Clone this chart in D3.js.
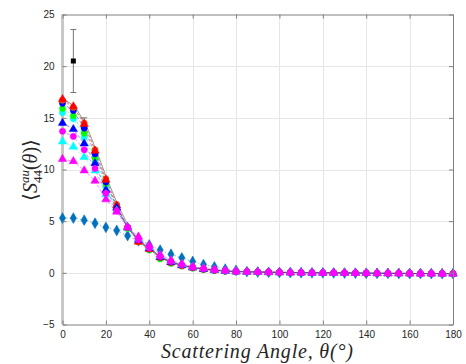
<!DOCTYPE html>
<html>
<head>
<meta charset="utf-8">
<script src="https://cdn.jsdelivr.net/npm/d3@7"></script>
<style>
  html, body { margin: 0; padding: 0; background: #fff; }
  svg { display: block; }
  .tick text { font-family: "Liberation Sans", Arial, sans-serif; font-size: 10px; fill: #262626; }
</style>
</head>
<body>
<div id="chart"></div>
<script>
// ── Data ───────────────────────────────────────────────────────────────────
const angles = [0, 5, 10, 15, 20, 25, 30, 35, 40, 45, 50, 55, 60, 65, 70, 75, 80,
  85, 90, 95, 100, 105, 110, 115, 120, 125, 130, 135, 140, 145, 150, 155, 160, 165, 170, 175, 180];

const redTri    = [16.8, 16.1, 14.4, 11.8, 9.0, 6.5, 4.4, 3.0, 2.3, 1.5, 1.0, 0.7, 0.5, 0.35, 0.25, 0.17, 0.12,
  0.1, 0.08, 0.06, 0.05, 0.03, 0.02, 0.01, 0, 0, -0.01, -0.02, -0.03, -0.04, -0.05, -0.05, -0.06, -0.07, -0.07, -0.08, -0.08];
const orangeCirc = [16.7, 16.0, 14.5, 11.9, 9.1, 6.6, 4.4, 3.0, 2.3, 1.5, 1.0, 0.7, 0.5, 0.35, 0.25, 0.17, 0.12,
  0.1, 0.08, 0.06, 0.05, 0.03, 0.02, 0.01, 0, 0, -0.01, -0.02, -0.03, -0.04, -0.05, -0.05, -0.06, -0.07, -0.07, -0.08, -0.08];
const blueCirc  = [16.4, 15.7, 14.0, 11.5, 8.8, 6.4, 4.4, 3.1, 2.3, 1.5, 1.0, 0.7, 0.5, 0.35, 0.25, 0.17, 0.12,
  0.1, 0.08, 0.06, 0.05, 0.03, 0.02, 0.01, 0, 0, -0.01, -0.02, -0.03, -0.04, -0.05, -0.05, -0.06, -0.07, -0.07, -0.08, -0.08];
const greenCirc = [15.9, 15.2, 13.5, 11.1, 8.6, 6.3, 4.3, 3.0, 2.2, 1.35, 0.9, 0.65, 0.45, 0.3, 0.22, 0.15, 0.1,
  0.08, 0.06, 0.05, 0.04, 0.03, 0.02, 0.01, 0, 0, -0.01, -0.02, -0.03, -0.04, -0.05, -0.05, -0.06, -0.07, -0.07, -0.08, -0.08];
const cyanCirc  = [15.5, 14.9, 13.1, 10.8, 8.3, 6.2, 4.3, 3.1, 2.3, 1.5, 1.0, 0.7, 0.5, 0.35, 0.25, 0.17, 0.12,
  0.1, 0.08, 0.06, 0.05, 0.03, 0.02, 0.01, 0, 0, -0.01, -0.02, -0.03, -0.04, -0.05, -0.05, -0.06, -0.07, -0.07, -0.08, -0.08];
const blueTri   = [14.5, 13.9, 12.5, 10.6, 8.0, 6.3, 4.4, 3.2, 2.4, 1.55, 1.05, 0.75, 0.52, 0.37, 0.26, 0.18, 0.12,
  0.1, 0.08, 0.06, 0.05, 0.03, 0.02, 0.01, 0, 0, -0.01, -0.02, -0.03, -0.04, -0.05, -0.05, -0.06, -0.07, -0.07, -0.08, -0.08];
const magCirc   = [13.7, 13.2, 11.9, 10.1, 7.7, 6.0, 4.4, 3.2, 2.4, 1.6, 1.1, 0.78, 0.55, 0.4, 0.28, 0.2, 0.14,
  0.1, 0.08, 0.06, 0.05, 0.03, 0.02, 0.01, 0, 0, -0.01, -0.02, -0.03, -0.04, -0.05, -0.05, -0.06, -0.07, -0.07, -0.08, -0.08];
const cyanTri   = [12.7, 12.2, 11.2, 9.9, 7.6, 6.0, 4.4, 3.3, 2.5, 1.65, 1.15, 0.8, 0.58, 0.42, 0.3, 0.2, 0.14,
  0.1, 0.08, 0.06, 0.05, 0.03, 0.02, 0.01, 0, 0, -0.01, -0.02, -0.03, -0.04, -0.05, -0.05, -0.06, -0.07, -0.07, -0.08, -0.08];
const magTri    = [11.0, 10.8, 9.9, 8.9, 7.1, 5.9, 4.4, 3.5, 2.65, 1.75, 1.2, 0.87, 0.6, 0.45, 0.32, 0.22, 0.15,
  0.1, 0.08, 0.06, 0.05, 0.03, 0.02, 0.01, 0, 0, -0.01, -0.02, -0.03, -0.04, -0.05, -0.05, -0.06, -0.07, -0.07, -0.08, -0.08];
const diamonds  = [5.3, 5.3, 5.1, 4.8, 4.4, 4.1, 3.6, 3.1, 2.7, 2.2, 1.8, 1.45, 1.1, 0.8, 0.58, 0.36, 0.24,
  0.12, 0.08, 0.05, 0.03, 0.02, 0.01, 0, 0, -0.01, -0.02, -0.03, -0.04, -0.05, -0.05, -0.06, -0.07, -0.07, -0.08, -0.08, -0.08];

// black measured points with error bars
const expAngles = [5, 10, 30];
const expValues = [20.5, 14.3, 4.3];
const expErrors = [3.05, 0.7, 0.15];

const xTicks = [0, 20, 40, 60, 80, 100, 120, 140, 160, 180];
const yTicks = [-5, 0, 5, 10, 15, 20, 25];

// drawing order = MATLAB plot order (later on top)
const series = [
  { values: diamonds,   color: "#0072BD", marker: "diamond" },
  { values: cyanCirc,   color: "#00ffff", marker: "circle" },
  { values: greenCirc,  color: "#00ff00", marker: "circle" },
  { values: blueCirc,   color: "#0000ff", marker: "circle" },
  { values: orangeCirc, color: "#D95319", marker: "circle" },
  { values: redTri,     color: "#ff0000", marker: "triangle" },
  { values: blueTri,    color: "#0000ff", marker: "triangle" },
  { values: cyanTri,    color: "#00ffff", marker: "triangle" },
  { values: magTri,     color: "#ff00ff", marker: "triangle" },
  { values: magCirc,    color: "#ff00ff", marker: "circle" },
];

// ── Layout ─────────────────────────────────────────────────────────────────
const W = 466, H = 364;
const x = d3.scaleLinear().domain([0, 180]).range([62.5, 453]);
const y = d3.scaleLinear().domain([-5, 25]).range([324.5, 14.5]);

const svg = d3.select("#chart").append("svg")
  .attr("width", W).attr("height", H)
  .style("background", "#fff");

// grid
const grid = svg.append("g").attr("stroke", "#e6e6e6").attr("stroke-width", 1);
grid.selectAll("line.gx").data(xTicks.slice(1, -1)).join("line")
  .attr("x1", d => Math.round(x(d)) + 0.5).attr("x2", d => Math.round(x(d)) + 0.5)
  .attr("y1", y(25)).attr("y2", y(-5));
grid.selectAll("line.gy").data(yTicks.slice(1, -1)).join("line")
  .attr("y1", d => Math.round(y(d)) + 0.5).attr("y2", d => Math.round(y(d)) + 0.5)
  .attr("x1", x(0)).attr("x2", x(180));

// thick light line on the left edge
svg.append("rect")
  .attr("x", x(0) - 1.5).attr("y", y(25))
  .attr("width", 3).attr("height", y(-5) - y(25))
  .attr("fill", "#c8c8c8");

// ── Marks ──────────────────────────────────────────────────────────────────
const triangle = d3.symbol().type(d3.symbolTriangle).size(30);
const circle = d3.symbol().type(d3.symbolCircle).size(30);
const diamond = d3.symbol().type(d3.symbolDiamond).size(34);
const shapes = { triangle, circle, diamond };

const line = d3.line().x((d, i) => x(angles[i])).y(d => y(d));

series.forEach(s => {
  svg.append("path")
    .attr("d", line(s.values))
    .attr("fill", "none")
    .attr("stroke", s.color)
    .attr("stroke-opacity", 0.45)
    .attr("stroke-width", 1)
    .attr("stroke-dasharray", s.marker === "diamond" ? "1.5,2" : "3,2");
});

// thin dark line along the leading curve
svg.append("path")
  .attr("d", line(redTri))
  .attr("fill", "none").attr("stroke", "#333").attr("stroke-width", 0.5)
  .attr("transform", "translate(1.5,0)");

// black measured points sit underneath the model markers
const errG = svg.append("g").attr("stroke", "#555").attr("stroke-width", 0.8);
expAngles.forEach((a, i) => {
  const cx = x(a), lo = y(expValues[i] - expErrors[i]), hi = y(expValues[i] + expErrors[i]);
  errG.append("line").attr("x1", cx).attr("x2", cx).attr("y1", lo).attr("y2", hi);
  errG.append("line").attr("x1", cx - 3).attr("x2", cx + 3).attr("y1", lo).attr("y2", lo);
  errG.append("line").attr("x1", cx - 3).attr("x2", cx + 3).attr("y1", hi).attr("y2", hi);
});
svg.append("g").selectAll("rect").data(expAngles).join("rect")
  .attr("x", d => x(d) - 2.5).attr("y", (d, i) => y(expValues[i]) - 2.5)
  .attr("width", 5).attr("height", 5)
  .attr("fill", "#000");

series.forEach(s => {
  svg.append("g").selectAll("path").data(s.values).join("path")
    .attr("transform", (d, i) => `translate(${x(angles[i])},${y(d)})`)
    .attr("d", shapes[s.marker]())
    .attr("fill", s.color)
    .attr("stroke", s.color)
    .attr("stroke-width", 0.5);
});

// ── Axes ───────────────────────────────────────────────────────────────────
const axisColor = "#808080";
const xAxis = svg.append("g").attr("transform", `translate(0,${y(-5)})`)
  .call(d3.axisBottom(x).tickValues(xTicks).tickSizeInner(-4).tickSizeOuter(0).tickPadding(6));
const xAxisTop = svg.append("g").attr("transform", `translate(0,${y(25)})`)
  .call(d3.axisTop(x).tickValues(xTicks).tickSizeInner(-4).tickSizeOuter(0).tickFormat(""));
const yAxis = svg.append("g").attr("transform", `translate(${x(0)},0)`)
  .call(d3.axisLeft(y).tickValues(yTicks).tickSizeInner(-4).tickSizeOuter(0).tickPadding(8));
const yAxisRight = svg.append("g").attr("transform", `translate(${x(180)},0)`)
  .call(d3.axisRight(y).tickValues(yTicks).tickSizeInner(-4).tickSizeOuter(0).tickFormat(""));

[xAxis, xAxisTop, yAxis, yAxisRight].forEach(g => {
  g.selectAll(".domain").attr("stroke", axisColor);
  g.selectAll(".tick line").attr("stroke", axisColor);
});
yAxis.select(".domain").attr("stroke", "none");

// ── Labels ─────────────────────────────────────────────────────────────────
svg.append("text")
  .attr("x", 257).attr("y", 358)
  .attr("text-anchor", "middle")
  .attr("textLength", 192)
  .attr("lengthAdjust", "spacing")
  .style("font-family", "'Liberation Serif', 'DejaVu Serif', serif")
  .style("font-style", "italic")
  .style("font-size", "20px")
  .attr("fill", "#262626")
  .text("Scattering Angle, θ(°)");

const yl = svg.append("text")
  .attr("transform", "translate(37,170) rotate(-90)")
  .attr("text-anchor", "middle")
  .style("font-family", "'Liberation Serif', 'DejaVu Serif', serif")
  .style("font-size", "20px")
  .attr("fill", "#262626");
yl.append("tspan").text("⟨");
yl.append("tspan").style("font-style", "italic").text("S");
yl.append("tspan").style("font-style", "italic").style("font-size", "13px").attr("dy", -8).text("au");
yl.append("tspan").style("font-size", "13px").attr("dx", -13).attr("dy", 13).text("44");
yl.append("tspan").attr("dy", -5).text("(");
yl.append("tspan").style("font-style", "italic").text("θ");
yl.append("tspan").text(")⟩");
</script>
</body>
</html>
